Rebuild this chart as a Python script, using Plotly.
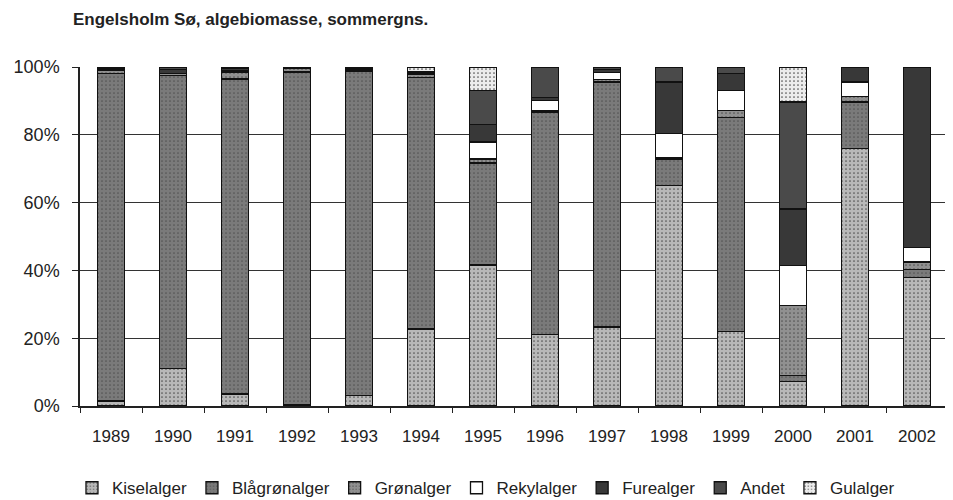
import plotly.graph_objects as go

years = ["1989", "1990", "1991", "1992", "1993", "1994", "1995",
         "1996", "1997", "1998", "1999", "2000", "2001", "2002"]

kiselalger   = [1.5, 11.0, 3.5, 0.5, 3.0, 22.7, 41.6, 21.0, 23.3, 65.0, 22.0, 7.3, 75.9, 38.0]
blagronalger = [96.5, 86.5, 93.0, 98.0, 95.8, 74.3, 30.1, 65.7, 72.3, 7.9, 63.2, 1.8, 13.8, 2.3]
gronalger    = [1.0, 0.5, 2.0, 1.0, 0.5, 0.8, 1.2, 0.5, 0.7, 0.4, 2.0, 20.5, 1.7, 2.2]
rekylalger   = [0.3, 0.0, 0.3, 0.0, 0.0, 0.3, 5.0, 2.9, 2.0, 7.0, 5.9, 11.8, 4.2, 4.2]
furealger    = [0.4, 1.2, 0.8, 0.3, 0.4, 0.2, 5.2, 1.0, 1.0, 15.3, 4.9, 16.7, 4.4, 53.3]
andet        = [0.3, 0.8, 0.4, 0.2, 0.3, 0.2, 9.9, 8.9, 0.7, 4.4, 2.0, 31.6, 0.0, 0.0]
gulalger     = [0.0, 0.0, 0.0, 0.0, 0.0, 1.5, 7.0, 0.0, 0.0, 0.0, 0.0, 10.3, 0.0, 0.0]

series = [
    ("Kiselalger", kiselalger, "#b8b8b8", "."),
    ("Blågrønalger", blagronalger, "#7a7a7a", "."),
    ("Grønalger", gronalger, "#909090", "."),
    ("Rekylalger", rekylalger, "#ffffff", ""),
    ("Furealger", furealger, "#383838", ""),
    ("Andet", andet, "#4a4a4a", ""),
    ("Gulalger", gulalger, "#ececec", "."),
]

FONT = "Liberation Sans, Arial, sans-serif"
fig = go.Figure()
for name, vals, col, pat in series:
    marker = dict(color=col, line=dict(color="#111111", width=1.3))
    if pat:
        marker["pattern"] = dict(shape=pat, fgcolor="#555555", bgcolor=col,
                                 size=4, solidity=0.15, fillmode="replace")
    fig.add_trace(go.Bar(x=years, y=vals, name=name, marker=marker))

fig.update_layout(
    width=945, height=492,
    barmode="stack", bargap=0.565,
    plot_bgcolor="white", paper_bgcolor="white",
    margin=dict(l=72, r=5, t=59, b=94, autoexpand=False),
    font=dict(family=FONT, size=18, color="#222222"),
    title=dict(text="<b>Engelsholm Sø, algebiomasse, sommergns.</b>",
               x=0.0688, xanchor="left", xref="container",
               y=0.9776, yanchor="middle", yref="container",
               font=dict(family=FONT, size=17, color="#222222")),
    legend=dict(orientation="h", xref="container", x=0.0677, xanchor="left",
                yref="container", y=0.024, yanchor="middle", traceorder="normal",
                font=dict(family=FONT, size=17, color="#222222"),
                itemwidth=30, bgcolor="rgba(0,0,0,0)"),
    showlegend=True,
)
fig.update_xaxes(type="category", showline=True, linecolor="#222222", linewidth=1.5,
                 ticks="outside", tickson="boundaries", ticklen=5,
                 tickcolor="#222222", showgrid=False, ticklabelstandoff=14,
                 tickfont=dict(family=FONT, size=17))
fig.update_yaxes(range=[0, 100], dtick=20, ticksuffix="%", showline=True,
                 linecolor="#222222", linewidth=1.5, ticks="outside", ticklen=6,
                 tickcolor="#222222", showgrid=True, gridcolor="#333333",
                 gridwidth=1.2, zeroline=False, ticklabelstandoff=9,
                 tickfont=dict(family=FONT, size=18))

fig.write_html("out.html")
